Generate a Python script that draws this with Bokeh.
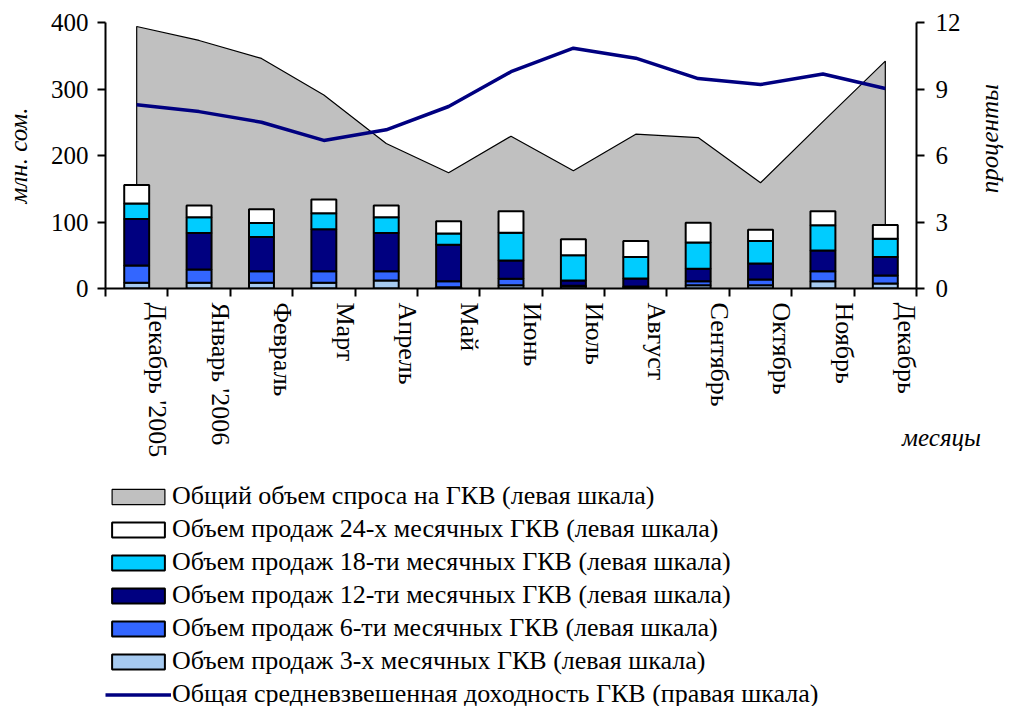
import math
from bokeh.plotting import figure
from bokeh.layouts import column
from bokeh.models import (Range1d, LinearAxis, FixedTicker, Legend, LegendItem,
                          ColumnDataSource)
from bokeh.embed import file_html
from bokeh.resources import INLINE

# ---------------- data ----------------
months = ["Декабрь '2005", "Январь '2006", "Февраль", "Март", "Апрель", "Май",
          "Июнь", "Июль", "Август", "Сентябрь", "Октябрь", "Ноябрь", "Декабрь"]
demand = [394, 373, 346, 291, 218, 174, 229, 177, 232, 227, 159, 251, 342]
m3 = [8.5, 8.5, 8.5, 8.5, 12, 2, 5, 3.5, 1, 5, 5, 11, 7.5]
m6 = [26, 20, 17.5, 17.5, 14, 9, 9.5, 0.5, 2, 6, 8.6, 15, 12]
m12 = [70, 55, 51.5, 63, 57.5, 54.7, 27.5, 8, 12, 18.7, 24, 31, 27.7]
m18 = [23.5, 23.5, 21, 24, 23.5, 17, 41.7, 38, 32.5, 39.3, 33.7, 38, 27.7]
m24 = [27.5, 18, 20.5, 21, 18, 18.6, 32.6, 24, 24, 30, 17.2, 21, 20.6]
yield_pct = [8.29, 7.98, 7.50, 6.68, 7.16, 8.21, 9.78, 10.84, 10.39, 9.47, 9.20, 9.68, 9.02]

left_ticks = [0, 100, 200, 300, 400]
right_ticks = [0, 3, 6, 9, 12]

series_names = [
    "Общий объем спроса на ГКВ (левая шкала)",
    "Объем продаж 24-х месячных ГКВ (левая шкала)",
    "Объем продаж 18-ти месячных ГКВ (левая шкала)",
    "Объем продаж 12-ти месячных ГКВ (левая шкала)",
    "Объем продаж 6-ти месячных ГКВ (левая шкала)",
    "Объем продаж 3-х месячных ГКВ (левая шкала)",
    "Общая средневзвешенная доходность ГКВ (правая шкала)",
]

FONT = "Liberation Serif"
FS = "25px"
W = 1013

n = len(months)
centers = [i + 0.5 for i in range(n)]
label_pos = [i + 0.84 for i in range(n)]

AREA_FILL = "#C0C0C0"
LINE_COLOR = "#000080"
stack_keys = ["m3", "m6", "m12", "m18", "m24"]
stack_colors = ["#A6CAF0", "#3366FF", "#000080", "#00CCFF", "#FFFFFF"]

src = ColumnDataSource(dict(x=centers, m3=m3, m6=m6, m12=m12, m18=m18, m24=m24))
area_x = [centers[0]] + centers + [centers[-1]]
area_y = [0] + demand + [0]

p = figure(frame_width=811, frame_height=266, x_range=Range1d(0, n), y_range=Range1d(0, 400),
           x_axis_type=None, y_axis_type=None,
           min_border_left=105, min_border_right=0, min_border_top=22, min_border_bottom=0,
           output_backend="svg", toolbar_location=None)
p.outline_line_color = None
p.background_fill_color = "white"
p.border_fill_color = "white"
p.extra_y_ranges = {"pct": Range1d(0, 12)}

# area: total demand
p.patch(area_x, area_y, fill_color=AREA_FILL, line_color="black", line_width=1.2)

# stacked bars
p.vbar_stack(stack_keys, x="x", width=0.4, color=stack_colors,
             line_color="black", line_width=2, source=src)

# yield line on right axis
p.line(centers, yield_pct, y_range_name="pct", line_color=LINE_COLOR, line_width=3.5)

# x axis: tick marks at category boundaries, labels near the right boundary
xaxis = LinearAxis(ticker=FixedTicker(ticks=label_pos, minor_ticks=list(range(n + 1))))
xaxis.major_label_overrides = {lp: m for lp, m in zip(label_pos, months)}
xaxis.major_label_orientation = "vertical"
xaxis.major_tick_out = 0
xaxis.major_tick_in = 0
xaxis.minor_tick_out = 8
xaxis.minor_tick_in = 0
xaxis.minor_tick_line_color = "black"
xaxis.minor_tick_line_width = 2
xaxis.axis_line_width = 2
xaxis.major_label_standoff = 6
xaxis.major_label_text_font = FONT
xaxis.major_label_text_font_size = "26px"
xaxis.major_label_text_color = "black"
p.add_layout(xaxis, "below")

# x axis title "месяцы" (pulled up next to the month labels)
XT_POS = 12.95
xtitle = LinearAxis(ticker=FixedTicker(ticks=[XT_POS], minor_ticks=[]))
xtitle.major_label_overrides = {XT_POS: "\u00a0" * 9 + "месяцы"}
xtitle.major_label_orientation = "horizontal"
xtitle.axis_line_color = None
xtitle.major_tick_line_color = None
xtitle.major_tick_out = 0
xtitle.major_tick_in = 0
xtitle.major_label_standoff = -37
xtitle.major_label_text_font = FONT
xtitle.major_label_text_font_size = FS
xtitle.major_label_text_font_style = "italic"
xtitle.major_label_text_color = "black"
p.add_layout(xtitle, "below")

# left axis
yaxis = LinearAxis(ticker=FixedTicker(ticks=left_ticks, minor_ticks=[]),
                   axis_label="млн. сом.")
yaxis.major_tick_out = 8
yaxis.major_tick_in = 0
yaxis.major_tick_line_width = 2
yaxis.axis_line_width = 2
yaxis.major_label_standoff = 9
yaxis.major_label_text_font = FONT
yaxis.major_label_text_font_size = FS
yaxis.major_label_text_color = "black"
yaxis.axis_label_text_font = FONT
yaxis.axis_label_text_font_size = FS
yaxis.axis_label_text_font_style = "italic"
yaxis.axis_label_text_color = "black"
yaxis.axis_label_standoff = 16
p.add_layout(yaxis, "left")

# right axis
raxis = LinearAxis(y_range_name="pct", ticker=FixedTicker(ticks=right_ticks, minor_ticks=[]))
raxis.major_tick_out = 8
raxis.major_tick_in = 0
raxis.major_tick_line_width = 2
raxis.axis_line_width = 2
raxis.major_label_standoff = 11
raxis.major_label_text_font = FONT
raxis.major_label_text_font_size = FS
raxis.major_label_text_color = "black"
p.add_layout(raxis, "right")

# right axis title, reading bottom-to-top
TITLE_POS = 4.3
rtitle = LinearAxis(y_range_name="pct", ticker=FixedTicker(ticks=[TITLE_POS], minor_ticks=[]))
rtitle.major_label_overrides = {TITLE_POS: "проценты"}
rtitle.major_label_orientation = math.pi / 2
rtitle.axis_line_color = None
rtitle.major_tick_line_color = None
rtitle.major_tick_out = 0
rtitle.major_tick_in = 0
rtitle.major_label_standoff = 26
rtitle.major_label_text_font = FONT
rtitle.major_label_text_font_size = FS
rtitle.major_label_text_font_style = "italic"
rtitle.major_label_text_color = "black"
p.add_layout(rtitle, "right")

# ---------------- legend panel ----------------
LEG_H = 251
# same series drawn on a view whose y window lies above all the data, so only the legend keys show
q = figure(width=W, height=LEG_H, x_range=Range1d(0, n), y_range=Range1d(1000, 2000),
           x_axis_type=None, y_axis_type=None,
           min_border_left=0, min_border_right=0, min_border_top=0, min_border_bottom=0,
           output_backend="svg", toolbar_location=None)
q.outline_line_color = None
q.background_fill_color = "white"
q.border_fill_color = "white"

k_area = q.patch(area_x, area_y, fill_color=AREA_FILL, line_color="black", line_width=1.2)
k_bars = dict(zip(stack_keys,
                  q.vbar_stack(stack_keys, x="x", width=0.4, color=stack_colors,
                               line_color="black", line_width=2, source=src)))
k_line = q.line(centers, yield_pct, line_color=LINE_COLOR, line_width=3.5)

items = [
    LegendItem(label=series_names[0], renderers=[k_area]),
    LegendItem(label=series_names[1], renderers=[k_bars["m24"]]),
    LegendItem(label=series_names[2], renderers=[k_bars["m18"]]),
    LegendItem(label=series_names[3], renderers=[k_bars["m12"]]),
    LegendItem(label=series_names[4], renderers=[k_bars["m6"]]),
    LegendItem(label=series_names[5], renderers=[k_bars["m3"]]),
    LegendItem(label=series_names[6], renderers=[k_line]),
]
legend = Legend(items=items, location=(0, 2), orientation="vertical",
                glyph_width=66, glyph_height=19, label_standoff=1,
                label_height=30, spacing=3, padding=0, margin=0,
                border_line_color=None, background_fill_alpha=0,
                label_text_font=FONT, label_text_font_size="26px",
                label_text_color="black", label_text_baseline="middle")
q.add_layout(legend, "center")

layout = column(p, q, spacing=0)
open("out.html", "w").write(file_html(layout, INLINE))
